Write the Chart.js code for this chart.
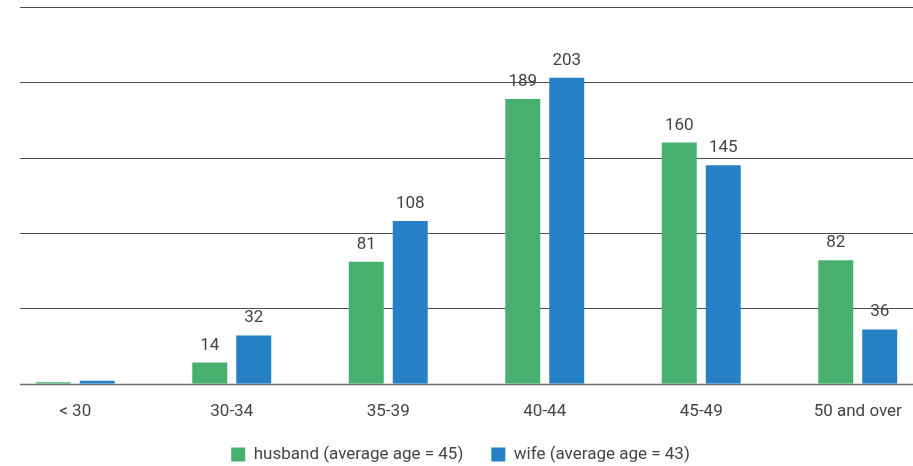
<!DOCTYPE html>
<html>
<head>
<meta charset="utf-8">
<script src="https://cdn.jsdelivr.net/npm/chart.js@4/dist/chart.umd.min.js"></script>
<style>
  html, body { margin: 0; padding: 0; background: #fff; overflow: hidden; }
  body { width: 913px; height: 466px; position: relative; }
  #wrap { position: absolute; left: -15px; top: 0; width: 951px; height: 466px; }
</style>
</head>
<body>
<div id="wrap"><canvas id="chart"></canvas></div>
<script>
// Age groups of spouses
const categories = ['< 30', '30-34', '35-39', '40-44', '45-49', '50 and over'];
const husbandCounts = [1, 14, 81, 189, 160, 82];
const wifeCounts = [2, 32, 108, 203, 145, 36];
const seriesNames = ['husband (average age = 45)', 'wife (average age = 43)'];
const yTicks = [0, 50, 100, 150, 200, 250];

const GREEN = '#48b06e';
const BLUE = '#2580c5';
const TEXT = '#444444';
const FONT = 'Roboto, "Noto Sans", sans-serif';
const LEGEND_GAP = 28;   // spacing between legend entries
const LEGEND_LIFT = 21;  // pulls the legend row closer to the axis labels

// Horizontal rules drawn from a fixed left start, under the bars
const rulesPlugin = {
  id: 'rules',
  beforeDatasetsDraw(chart) {
    const { ctx, scales } = chart;
    const y = scales.y;
    const startX = 35; // canvas x where the rules begin
    ctx.save();
    yTicks.forEach((v) => {
      const py = Math.round(y.getPixelForValue(v)) + 0.5;
      ctx.beginPath();
      ctx.strokeStyle = v === 0 ? '#6e6e6e' : '#4d4d4d';
      ctx.lineWidth = v === 0 ? 1.5 : 1;
      ctx.moveTo(startX, py);
      ctx.lineTo(chart.width, py);
      ctx.stroke();
    });
    ctx.restore();
  }
};

// Keep wide horizontal spacing in the legend without the matching top gap
const legendLift = {
  id: 'legendLift',
  afterLayout(chart) {
    const lg = chart.legend;
    if (lg) {
      lg.top -= LEGEND_LIFT;
      lg.bottom -= LEGEND_LIFT;
    }
  }
};

// Value labels above each bar
const valueLabels = {
  id: 'valueLabels',
  afterDatasetsDraw(chart) {
    const { ctx } = chart;
    ctx.save();
    ctx.font = '17px ' + FONT;
    ctx.fillStyle = TEXT;
    ctx.textAlign = 'center';
    ctx.textBaseline = 'alphabetic';
    chart.data.datasets.forEach((ds, i) => {
      const meta = chart.getDatasetMeta(i);
      meta.data.forEach((bar, j) => {
        const v = ds.data[j];
        if (v < 5) return;
        ctx.fillText(String(v), bar.x, bar.y - 13);
      });
    });
    ctx.restore();
  }
};

new Chart(document.getElementById('chart'), {
  type: 'bar',
  data: {
    labels: categories,
    datasets: [
      { label: seriesNames[0], data: husbandCounts, backgroundColor: GREEN },
      { label: seriesNames[1], data: wifeCounts, backgroundColor: BLUE }
    ]
  },
  options: {
    responsive: true,
    maintainAspectRatio: false,
    animation: false,
    categoryPercentage: 0.562,
    barPercentage: 0.795,
    layout: { padding: { top: 7, left: 0, right: 0, bottom: -28 } },
    plugins: {
      tooltip: { enabled: false },
      legend: {
        position: 'bottom',
        labels: {
          boxWidth: 14,
          boxHeight: 14,
          padding: LEGEND_GAP,
          color: TEXT,
          font: { family: FONT, size: 17 }
        }
      }
    },
    scales: {
      x: {
        grid: { display: false, drawTicks: false },
        border: { display: false },
        ticks: { color: TEXT, font: { family: FONT, size: 17, lineHeight: 0.9 }, padding: 20, maxRotation: 0 }
      },
      y: {
        min: 0,
        max: 250,
        grid: { display: false, drawTicks: false },
        border: { display: false },
        ticks: { display: false, stepSize: 50 },
        afterFit(scale) { scale.width = 12; }
      }
    }
  },
  plugins: [rulesPlugin, legendLift, valueLabels]
});
</script>
</body>
</html>
